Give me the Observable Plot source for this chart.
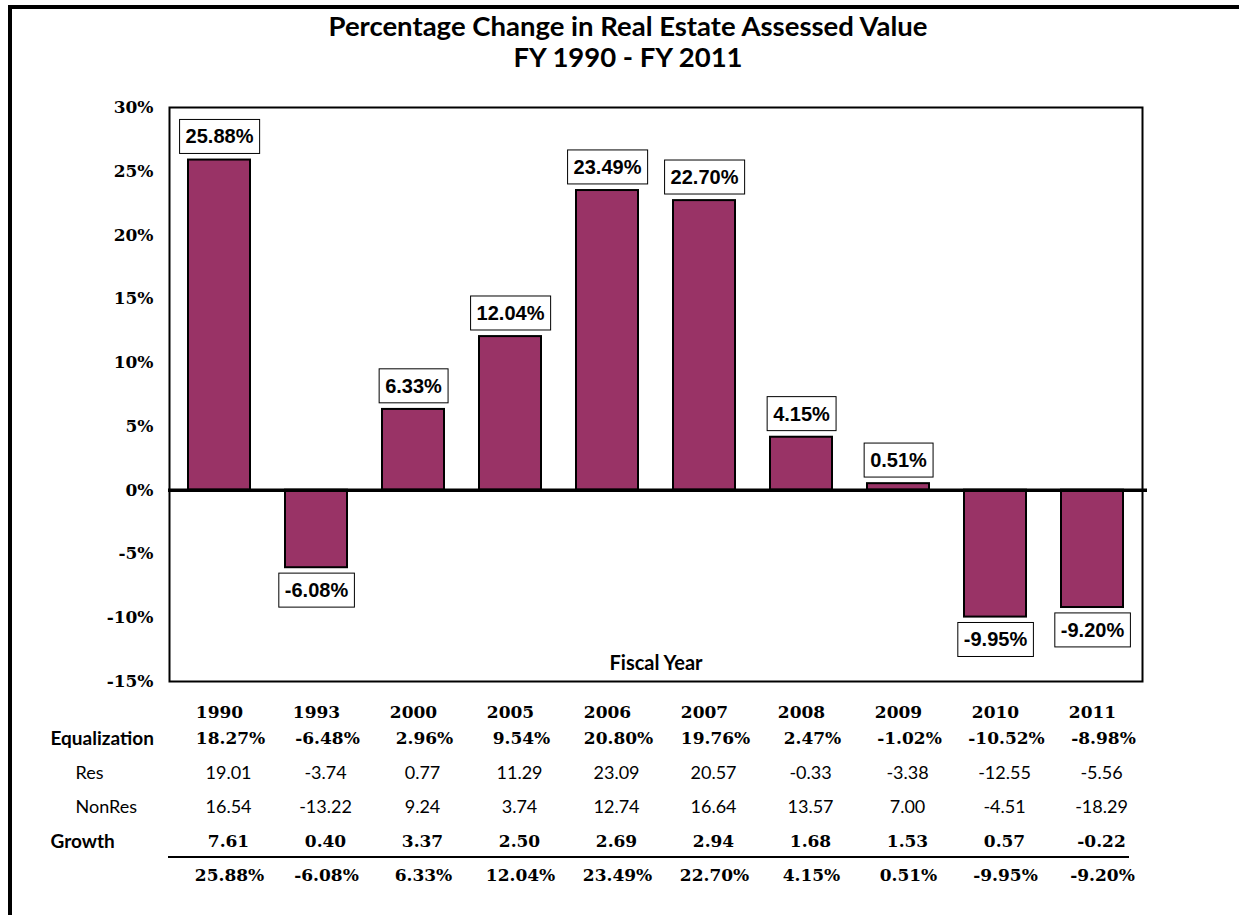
<!DOCTYPE html>
<html><head><meta charset="utf-8">
<script src="https://cdn.jsdelivr.net/npm/d3@7"></script>
<script src="https://cdn.jsdelivr.net/npm/@observablehq/plot@0.6"></script>
<style>
html,body{margin:0;padding:0;background:#fff;}
body{width:1239px;height:915px;overflow:hidden;position:relative;}
#border{position:absolute;left:8px;top:5px;width:1400px;height:1000px;border-top:4px solid #000;border-left:4px solid #000;pointer-events:none;}
#title{position:relative;height:80px;box-sizing:border-box;padding-top:10px;padding-left:17px;font-family:Lato,sans-serif;font-weight:bold;font-size:27.5px;line-height:31px;text-align:center;color:#000;}
#chart{position:relative;}
</style>
</head>
<body>
<div id="border"></div>
<div id="title">Percentage Change in Real Estate Assessed Value<br>FY 1990 - FY 2011</div>
<div id="chart"></div>
<script>
const years = ["1990","1993","2000","2005","2006","2007","2008","2009","2010","2011"];
const totalChange = [25.88,-6.08,6.33,12.04,23.49,22.70,4.15,0.51,-9.95,-9.20];
const equalization = [18.27,-6.48,2.96,9.54,20.80,19.76,2.47,-1.02,-10.52,-8.98];
const resChange = [19.01,-3.74,0.77,11.29,23.09,20.57,-0.33,-3.38,-12.55,-5.56];
const nonResChange = [16.54,-13.22,9.24,3.74,12.74,16.64,13.57,7.00,-4.51,-18.29];
const growth = [7.61,0.40,3.37,2.50,2.69,2.94,1.68,1.53,0.57,-0.22];
const yTicks = [-15,-10,-5,0,5,10,15,20,25,30];
const rowLabels = ["Equalization","Res","NonRes","Growth"];

const rows = years.map((year,i)=>({year, total:totalChange[i], eq:equalization[i], res:resChange[i], nonres:nonResChange[i], growth:growth[i]}));

const serif = "'DejaVu Serif', serif";
const sans = "Lato, sans-serif";
const arial = "'Liberation Sans', Arial, sans-serif";
const LABEL_INK = "#010101";
const f2 = v => v.toFixed(2);
const pct = v => v.toFixed(2) + "%";

const W = 1239, H = 835, MT = 27, MB = 234, ML = 169, MR = 97;

const tableRule = (index, scales, values, dims) => {
  const x0 = scales.x(years[0]) - 20;
  const x1 = scales.x(years[years.length-1]) + scales.x.bandwidth() + 6;
  const y = dims.height - dims.marginBottom + 176;
  return d3.create("svg:line").attr("x1", x0).attr("x2", x1).attr("y1", y).attr("y2", y)
    .attr("stroke", "#000").attr("stroke-width", 2).node();
};

const tableRow = (accessor, dy, opts) => Plot.text(rows, {x:"year", text: accessor, frameAnchor:"bottom", dy, lineAnchor:"middle", fill:"#000", ...opts});

const chart = Plot.plot({
  width: W, height: H,
  marginTop: MT, marginBottom: MB, marginLeft: ML, marginRight: MR,
  style: {background:"transparent", overflow:"visible", color:"#000"},
  x: {domain: years, paddingInner: 0.36, paddingOuter: 0.18, axis: null},
  y: {domain: [-15, 30], axis: null},
  marks: [
    Plot.barY(rows, {x:"year", y:"total", fill:"#993366", stroke:"#000", strokeWidth:2}),
    Plot.frame({stroke:"#000", strokeWidth:2}),
    Plot.ruleY([0], {stroke:"#000", strokeWidth:3.5, insetLeft:-1, insetRight:-5}),
    Plot.axisY(yTicks, {label:null, tickSize:0, tickPadding:16, tickFormat: d => d + "%", fontSize:17, fontWeight:"bold", fontFamily:serif, fill:"#000"}),
    Plot.text(rows.filter(d => d.total >= 0), {x:"year", y:"total", text: d => pct(d.total), dy:-23, lineAnchor:"middle", fontFamily:arial, fontWeight:"bold", fontSize:20, fill:LABEL_INK}),
    Plot.text(rows.filter(d => d.total < 0), {x:"year", y:"total", text: d => pct(d.total), dy:23, lineAnchor:"middle", fontFamily:arial, fontWeight:"bold", fontSize:20, fill:LABEL_INK}),
    Plot.text(["Fiscal Year"], {frameAnchor:"bottom", dy:-18, lineAnchor:"middle", fontFamily:sans, fontWeight:"bold", fontSize:20, fill:"#000"}),
    // table
    tableRow(d => d.year, 31, {fontFamily:serif, fontWeight:"bold", fontSize:17}),
    tableRow(d => pct(d.eq), 57, {dx:11, fontFamily:serif, fontWeight:"bold", fontSize:17}),
    tableRow(d => f2(d.res), 92, {dx:9, fontFamily:sans, fontSize:18}),
    tableRow(d => f2(d.nonres), 126, {dx:9, fontFamily:sans, fontSize:18}),
    tableRow(d => f2(d.growth), 160, {dx:9, fontFamily:serif, fontWeight:"bold", fontSize:17}),
    tableRow(d => pct(d.total), 194, {dx:10, fontFamily:serif, fontWeight:"bold", fontSize:17}),
    tableRule,
    Plot.text([rowLabels[0]], {frameAnchor:"bottom-left", dx:-119, dy:57, textAnchor:"start", lineAnchor:"middle", fontFamily:sans, fontWeight:"bold", fontSize:19, fill:"#000"}),
    Plot.text([rowLabels[1]], {frameAnchor:"bottom-left", dx:-94, dy:92, textAnchor:"start", lineAnchor:"middle", fontFamily:sans, fontSize:18, fill:"#000"}),
    Plot.text([rowLabels[2]], {frameAnchor:"bottom-left", dx:-94, dy:126, textAnchor:"start", lineAnchor:"middle", fontFamily:sans, fontSize:18, fill:"#000"}),
    Plot.text([rowLabels[3]], {frameAnchor:"bottom-left", dx:-119, dy:160, textAnchor:"start", lineAnchor:"middle", fontFamily:sans, fontWeight:"bold", fontSize:19, fill:"#000"})
  ]
});
document.getElementById("chart").appendChild(chart);

// white boxes behind the value labels
chart.querySelectorAll("text").forEach(t => {
  const ink = (t.getAttribute("fill") || (t.parentNode && t.parentNode.getAttribute("fill")) || "").toLowerCase();
  if (ink !== LABEL_INK) return;
  const b = t.getBBox();
  const r = document.createElementNS("http://www.w3.org/2000/svg", "rect");
  r.setAttribute("x", b.x - 6);
  r.setAttribute("y", b.y - 6);
  r.setAttribute("width", b.width + 12);
  r.setAttribute("height", b.height + 12);
  r.setAttribute("fill", "#fff");
  r.setAttribute("stroke", "#000");
  r.setAttribute("stroke-width", 1);
  const tr = t.getAttribute("transform");
  if (tr) r.setAttribute("transform", tr);
  t.parentNode.insertBefore(r, t);
});
</script>
</body></html>
